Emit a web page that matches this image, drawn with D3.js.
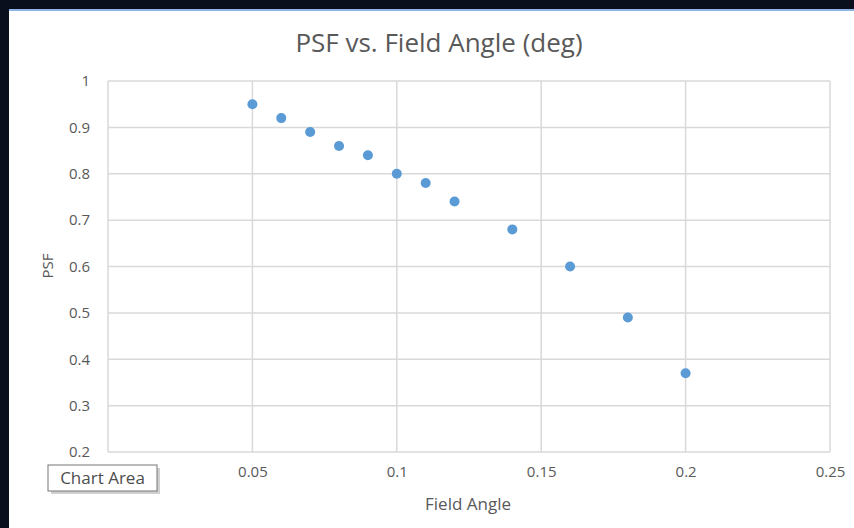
<!DOCTYPE html>
<html>
<head>
<meta charset="utf-8">
<script src="https://cdn.jsdelivr.net/npm/d3@7"></script>
<style>
  body { margin: 0; background: #0a0f1e; }
  svg { display: block; }
  .tick text { fill: #595959; font-family: "Open Sans", sans-serif; font-size: 15px; }
</style>
</head>
<body>
<div id="chartDiv"></div>
<script>
// data
var fieldAngle = [0.05, 0.06, 0.07, 0.08, 0.09, 0.10, 0.11, 0.12, 0.14, 0.16, 0.18, 0.20];
var psf = [0.95, 0.92, 0.89, 0.86, 0.84, 0.80, 0.78, 0.74, 0.68, 0.60, 0.49, 0.37];
var xTicks = [0, 0.05, 0.1, 0.15, 0.2, 0.25];
var yTicks = [0.2, 0.3, 0.4, 0.5, 0.6, 0.7, 0.8, 0.9, 1];

var svg = d3.select("#chartDiv").append("svg").attr("width", 854).attr("height", 528),
  margin = {top: 81, right: 24, bottom: 76, left: 108},
  width = 854 - margin.left - margin.right,
  height = 528 - margin.top - margin.bottom;

// chart area background
svg.append("rect").attr("x", 0).attr("y", 0).attr("width", 854).attr("height", 528).attr("fill", "#0a0f1e");
svg.append("rect").attr("x", 9).attr("y", 9).attr("width", 845).attr("height", 519).attr("fill", "#ffffff");
svg.append("rect").attr("x", 9).attr("y", 9).attr("width", 845).attr("height", 2).attr("fill", "#8db4e2");

var g = svg.append("g").attr("transform", "translate(" + margin.left + "," + margin.top + ")");

var x = d3.scaleLinear().domain([0, 0.25]).range([0, width]),
  y = d3.scaleLinear().domain([0.2, 1]).range([height, 0]);

// gridlines
g.selectAll(".hgrid")
  .data(yTicks)
  .enter().append("line")
  .attr("x1", 0).attr("x2", width)
  .attr("y1", function (d) { return y(d); })
  .attr("y2", function (d) { return y(d); })
  .attr("stroke", "#d9d9d9").attr("stroke-width", 1.5);

g.selectAll(".vgrid")
  .data(xTicks)
  .enter().append("line")
  .attr("y1", 0).attr("y2", height)
  .attr("x1", function (d) { return x(d); })
  .attr("x2", function (d) { return x(d); })
  .attr("stroke", "#d9d9d9").attr("stroke-width", 1.5);

// axes (labels only)
var xAxis = g.append("g")
  .attr("transform", "translate(0," + height + ")")
  .call(d3.axisBottom(x).tickValues(xTicks.slice(1)).tickSize(0).tickPadding(14).tickFormat(d3.format("")));
xAxis.select(".domain").remove();

var yAxis = g.append("g")
  .call(d3.axisLeft(y).tickValues(yTicks).tickSize(0).tickPadding(18).tickFormat(d3.format("")));
yAxis.select(".domain").remove();

// points
g.selectAll(".dot")
  .data(fieldAngle)
  .enter().append("circle")
  .attr("cx", function (d) { return x(d); })
  .attr("cy", function (d, i) { return y(psf[i]); })
  .attr("r", 5)
  .attr("fill", "#5b9bd5");

// titles
svg.append("text")
  .attr("x", 439)
  .attr("y", 52)
  .style("text-anchor", "middle")
  .style("font-family", "Open Sans, sans-serif")
  .style("font-size", 26)
  .style("fill", "#595959")
  .text("PSF vs. Field Angle (deg)");

svg.append("text")
  .attr("x", 468)
  .attr("y", 510)
  .style("text-anchor", "middle")
  .style("font-family", "Open Sans, sans-serif")
  .style("font-size", 17)
  .style("fill", "#595959")
  .text("Field Angle");

svg.append("text")
  .attr("transform", "translate(53,266) rotate(-90)")
  .style("text-anchor", "middle")
  .style("font-family", "Open Sans, sans-serif")
  .style("font-size", 15)
  .style("fill", "#595959")
  .text("PSF");

// "Chart Area" tooltip
var tip = svg.append("g").attr("transform", "translate(48,465)");
tip.append("rect").attr("x", 3).attr("y", 3).attr("width", 109).attr("height", 26).attr("fill", "#b0b0b0").attr("opacity", 0.6);
tip.append("rect").attr("x", 0).attr("y", 0).attr("width", 109).attr("height", 26).attr("fill", "#ffffff").attr("stroke", "#767676");
tip.append("text")
  .attr("x", 54.5)
  .attr("y", 19)
  .style("text-anchor", "middle")
  .style("font-family", "Open Sans, sans-serif")
  .style("font-size", 17)
  .style("fill", "#4d4d4d")
  .text("Chart Area");
</script>
</body>
</html>
